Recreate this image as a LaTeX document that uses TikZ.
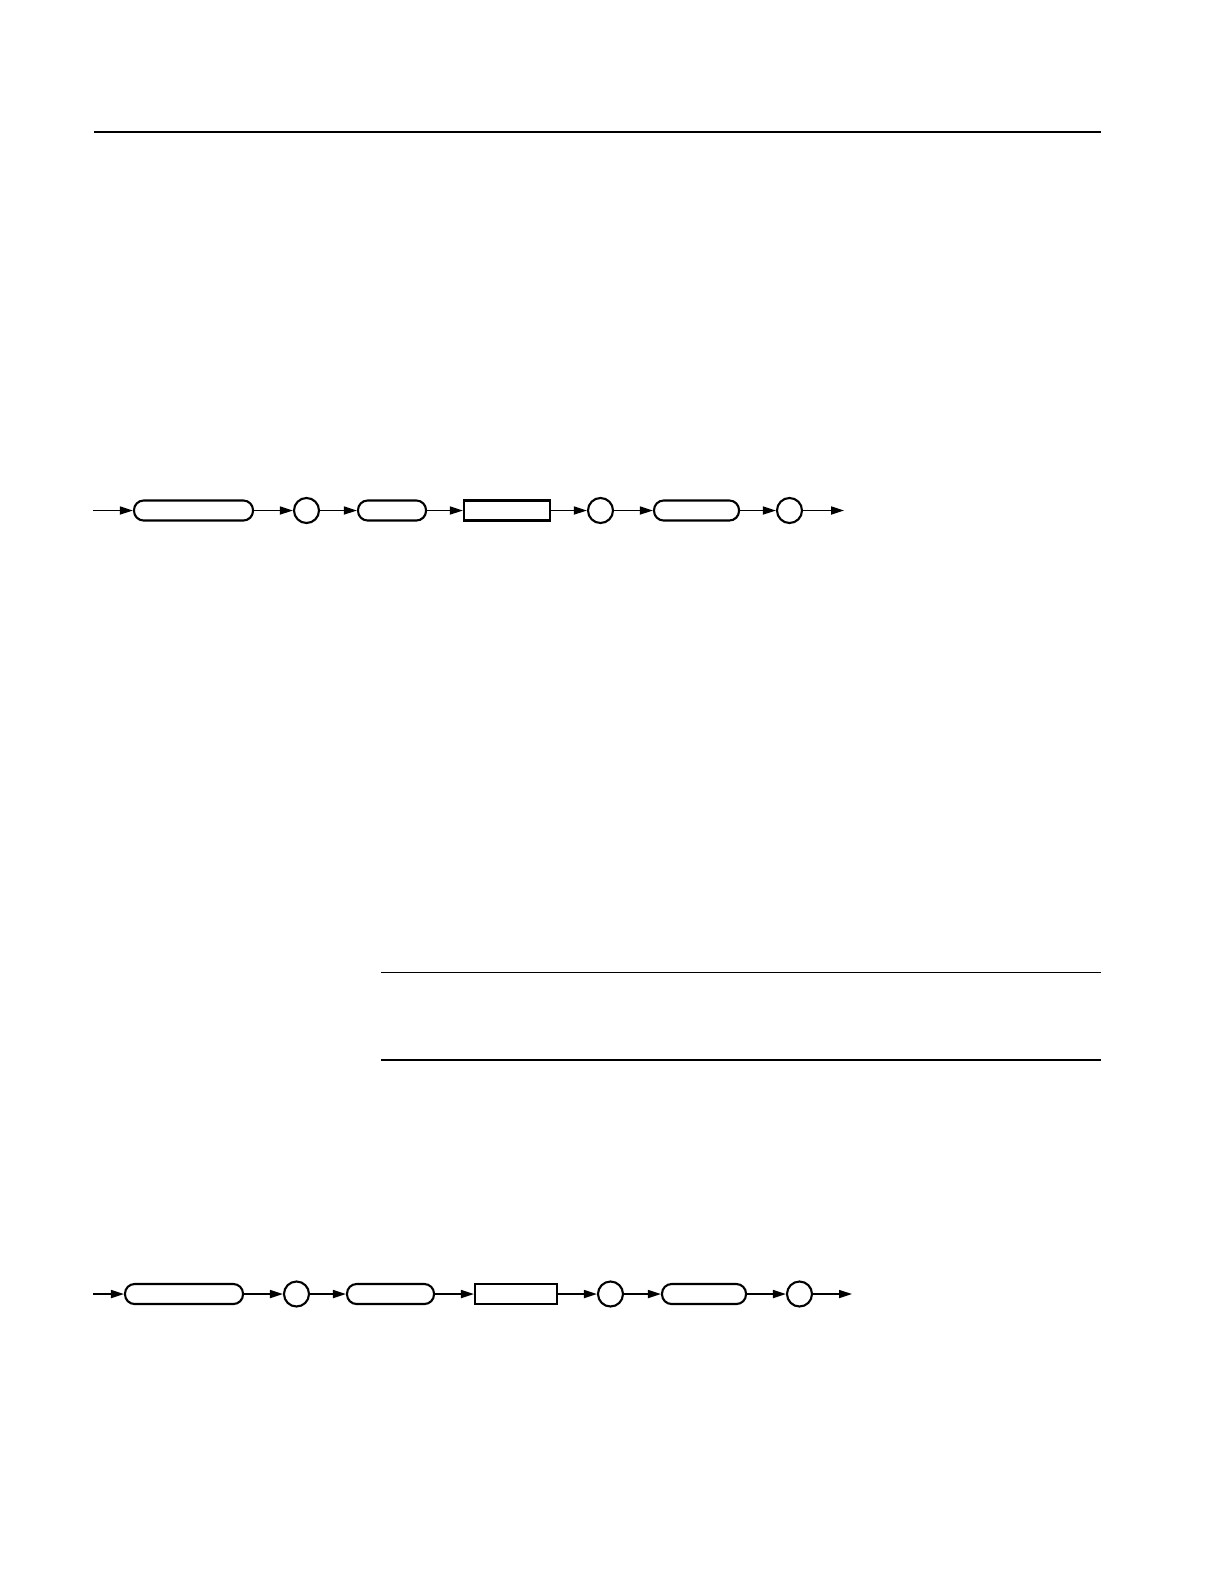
\documentclass[tikz,border=0pt]{standalone}
\usetikzlibrary{arrows.meta}
\begin{document}
\begin{tikzpicture}[x=0.5pt,y=-0.5pt,
  shp/.style={draw, line width=1.05pt, inner sep=0pt, minimum height=10pt},
  pill/.style={shp, rounded corners=4.8pt, minimum width=#1},
  boxr/.style={shp, minimum width=#1},
  ring/.style={draw, line width=1.05pt, circle, inner sep=0pt, minimum size=12.5pt},
  conn/.style={line width=0.85pt, -{Triangle[length=6.5pt,width=4pt]}},
  rule/.style={line width=0.8pt}]
\useasboundingbox (0,0) rectangle (1224,1584);
% rules
\coordinate (t1) at (94,132.3); \coordinate (t2) at (1101,132.3);
\draw[rule] (t1) -- (t2);
\coordinate (m1) at (381,972.5); \coordinate (m2) at (1101,972.5);
\draw[rule] (m1) -- (m2);
\coordinate (n1) at (381,1060); \coordinate (n2) at (1101,1060);
\draw[rule] (n1) -- (n2);
% row 1
\coordinate (as) at (93,510.5);
\node[pill=59.5pt] (ap1) at (193.5,510.5) {};
\node[ring] (ac1) at (306.5,510.5) {};
\node[pill=34pt] (ap2) at (392,510.5) {};
\node[boxr=43pt] (ar1) at (507,510.5) {};
\node[ring] (ac2) at (600.5,510.5) {};
\node[pill=42.5pt] (ap3) at (696.5,510.5) {};
\node[ring] (ac3) at (789.5,510.5) {};
\coordinate (ae) at (844,510.5);
\draw[conn] (as) -- (ap1);
\draw[conn] (ap1) -- (ac1);
\draw[conn] (ac1) -- (ap2);
\draw[conn] (ap2) -- (ar1);
\draw[conn] (ar1) -- (ac2);
\draw[conn] (ac2) -- (ap3);
\draw[conn] (ap3) -- (ac3);
\draw[conn] (ac3) -- (ae);
% row 2
\coordinate (bs) at (93,1294);
\node[pill=59pt] (bp1) at (184,1294) {};
\node[ring] (bc1) at (296.5,1294) {};
\node[pill=43.5pt] (bp2) at (390.5,1294) {};
\node[boxr=41pt] (br1) at (516,1294) {};
\node[ring] (bc2) at (610.5,1294) {};
\node[pill=42pt] (bp3) at (704,1294) {};
\node[ring] (bc3) at (799.5,1294) {};
\coordinate (be) at (852,1294);
\draw[conn] (bs) -- (bp1);
\draw[conn] (bp1) -- (bc1);
\draw[conn] (bc1) -- (bp2);
\draw[conn] (bp2) -- (br1);
\draw[conn] (br1) -- (bc2);
\draw[conn] (bc2) -- (bp3);
\draw[conn] (bp3) -- (bc3);
\draw[conn] (bc3) -- (be);
\end{tikzpicture}
\end{document}
